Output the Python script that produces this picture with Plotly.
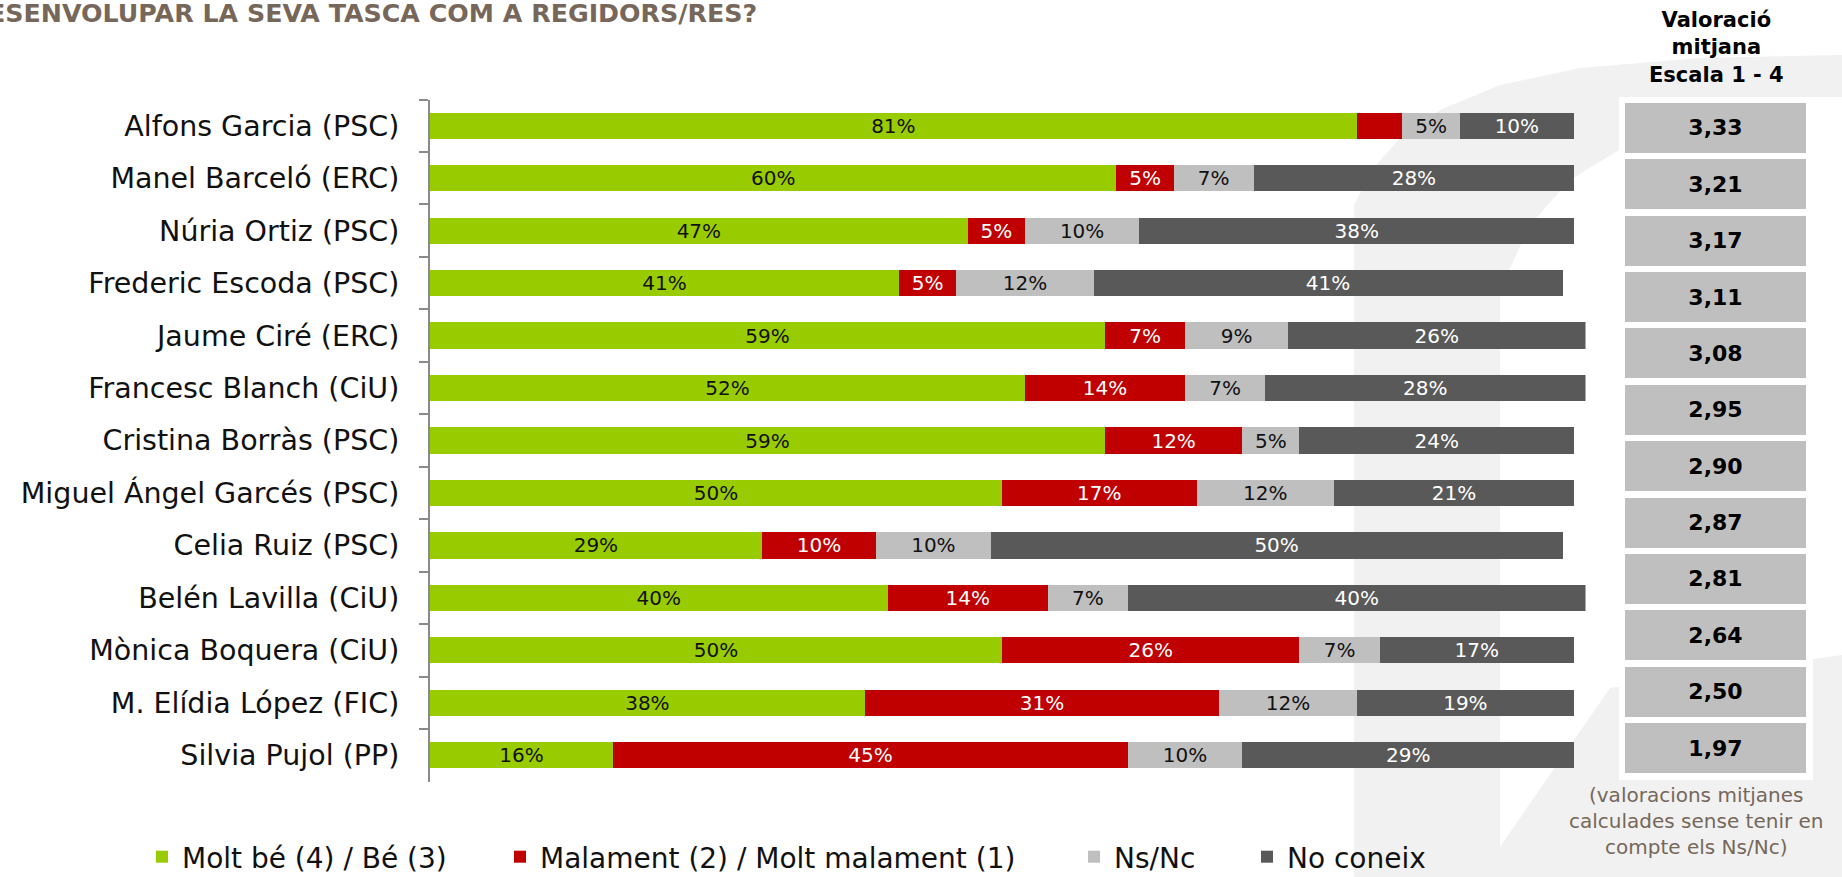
import plotly.graph_objects as go

# ---------------- data ----------------
candidates = ["Alfons Garcia (PSC)", "Manel Barceló (ERC)", "Núria Ortiz (PSC)",
              "Frederic Escoda (PSC)", "Jaume Ciré (ERC)", "Francesc Blanch (CiU)",
              "Cristina Borràs (PSC)", "Miguel Ángel Garcés (PSC)", "Celia Ruiz (PSC)",
              "Belén Lavilla (CiU)", "Mònica Boquera (CiU)", "M. Elídia López (FIC)",
              "Silvia Pujol (PP)"]
molt_be = [81, 60, 47, 41, 59, 52, 59, 50, 29, 40, 50, 38, 16]
malament = [4, 5, 5, 5, 7, 14, 12, 17, 10, 14, 26, 31, 45]
ns_nc = [5, 7, 10, 12, 9, 7, 5, 12, 10, 7, 7, 12, 10]
no_coneix = [10, 28, 38, 41, 26, 28, 24, 21, 50, 40, 17, 19, 29]
valoracio = [3.33, 3.21, 3.17, 3.11, 3.08, 2.95, 2.90, 2.87, 2.81, 2.64, 2.50, 1.97]

series_names = ["Molt bé (4) / Bé (3)", "Malament (2) / Molt malament (1)", "Ns/Nc", "No coneix"]
series_vals = [molt_be, malament, ns_nc, no_coneix]

title_text = "DESENVOLUPAR LA SEVA TASCA COM A REGIDORS/RES?"
header_text = "Valoració<br>mitjana<br>Escala 1 - 4"
note_text = "(valoracions mitjanes<br>calculades sense tenir en<br>compte els Ns/Nc)"

# ---------------- style ----------------
colors = ["#99CC00", "#C00000", "#BFBFBF", "#595959"]
text_colors = ["#111111", "#FFFFFF", "#111111", "#FFFFFF"]
FONT = "DejaVu Sans"
BROWN = "#76675A"

W, H = 1842, 877
ML, MR, MT, MB = 430, 30, 90, 90
PW = W - ML - MR
PH = H - MT - MB


def fx(p):
    return (p - ML) / PW


def fy(p):
    return (H - MB - p) / PH


fig = go.Figure()

legend_ids = ["legend", "legend2", "legend3", "legend4"]
legend_text_left = [184, 542, 1116, 1289]

for i, (name, vals) in enumerate(zip(series_names, series_vals)):
    texts = [f"{v}%" if v >= 5 else "" for v in vals]
    fig.add_trace(go.Bar(
        y=candidates, x=vals, orientation="h", name=name,
        marker=dict(color=colors[i], line=dict(width=0)),
        width=0.5,
        text=texts, textposition="inside", insidetextanchor="middle",
        textangle=0, constraintext="none",
        textfont=dict(family=FONT, size=20, color=text_colors[i]),
        legend=legend_ids[i],
        xaxis="x", yaxis="y",
    ))

val_labels = [f"{v:.2f}".replace(".", ",") for v in valoracio]
fig.add_trace(go.Bar(
    y=list(range(len(valoracio))), x=[1] * len(valoracio), orientation="h",
    marker=dict(color="#BFBFBF", line=dict(width=0)),
    width=0.887, text=val_labels, textposition="inside",
    insidetextanchor="middle", textangle=0, constraintext="none",
    textfont=dict(family=FONT, size=22, color="#000000", weight="bold"),
    showlegend=False, xaxis="x2", yaxis="y2", hoverinfo="skip",
))

# background watermark + white panel
shapes = []


def path_px(pts):
    s = ""
    for k, (a, b) in enumerate(pts):
        s += ("M" if k == 0 else "L") + f"{fx(a):.5f},{fy(b):.5f} "
    return s + "Z"


wm = "#F1F1F1"
shapes.append(dict(type="path", xref="paper", yref="paper", layer="below",
                   fillcolor=wm, line=dict(width=0),
                   path=path_px([(1354, 877), (1354, 205), (1372, 170), (1400, 138), (1440, 110),
                                 (1500, 85), (1580, 68), (1700, 58), (1842, 55), (1842, 97),
                                 (1619, 97), (1619, 150), (1570, 180), (1530, 225), (1500, 290),
                                 (1500, 877)])))
shapes.append(dict(type="path", xref="paper", yref="paper", layer="below",
                   fillcolor=wm, line=dict(width=0),
                   path=path_px([(1610, 688), (1842, 655), (1842, 877), (1479, 877)])))
shapes.append(dict(type="rect", xref="paper", yref="paper", layer="below",
                   fillcolor="#FFFFFF", line=dict(width=0),
                   x0=fx(1619), x1=fx(1813), y0=fy(780), y1=fy(97)))

annotations = [
    dict(text=title_text, xref="paper", yref="paper", x=fx(759), y=fy(14),
         xanchor="right", yanchor="middle", showarrow=False,
         font=dict(family=FONT, size=25.3, color=BROWN, weight="bold")),
    dict(text=header_text, xref="paper", yref="paper", x=fx(1716), y=fy(48),
         xanchor="center", yanchor="middle", showarrow=False,
         font=dict(family=FONT, size=21, color="#000000", weight="bold")),
    dict(text=note_text, xref="paper", yref="paper", x=fx(1696), y=fy(821),
         xanchor="center", yanchor="middle", showarrow=False,
         font=dict(family=FONT, size=20, color=BROWN)),
]

layout_legends = {}
for lid, tl in zip(legend_ids, legend_text_left):
    layout_legends[lid] = dict(
        x=fx(tl - 42), xanchor="left", y=fy(857), yanchor="middle",
        orientation="h", bgcolor="rgba(0,0,0,0)", borderwidth=0,
        font=dict(family=FONT, size=28, color="#111111"),
    )

fig.update_layout(
    width=W, height=H,
    margin=dict(l=ML, r=MR, t=MT, b=MB, autoexpand=False),
    paper_bgcolor="#FFFFFF", plot_bgcolor="rgba(0,0,0,0)",
    barmode="stack",
    font=dict(family=FONT, color="#111111"),
    showlegend=True,
    xaxis=dict(domain=[0, fx(1585.5)], range=[0, 101], visible=False,
               showgrid=False, zeroline=False),
    yaxis=dict(domain=[fy(781.5), fy(99.5)], type="category",
               categoryorder="array", categoryarray=candidates,
               range=[len(candidates) - 0.5, -0.5],
               showline=True, linecolor="#8A8A8A", linewidth=2,
               ticks="outside", ticklen=9, tickcolor="#8A8A8A", tickwidth=2,
               tickson="boundaries", showgrid=False, zeroline=False,
               ticklabelstandoff=23,
               tickfont=dict(family=FONT, size=28.5, color="#111111")),
    xaxis2=dict(domain=[fx(1625), fx(1806)], range=[0, 1], anchor="y2",
                visible=False, showgrid=False, zeroline=False),
    yaxis2=dict(domain=[fy(776.2), fy(99.8)], range=[len(valoracio) - 0.5, -0.5],
                anchor="x2", visible=False, showgrid=False, zeroline=False),
    shapes=shapes, annotations=annotations,
    **layout_legends,
)

fig.write_html("out.html", config={"displayModeBar": False},
               post_script="document.body.style.margin='0px';")
